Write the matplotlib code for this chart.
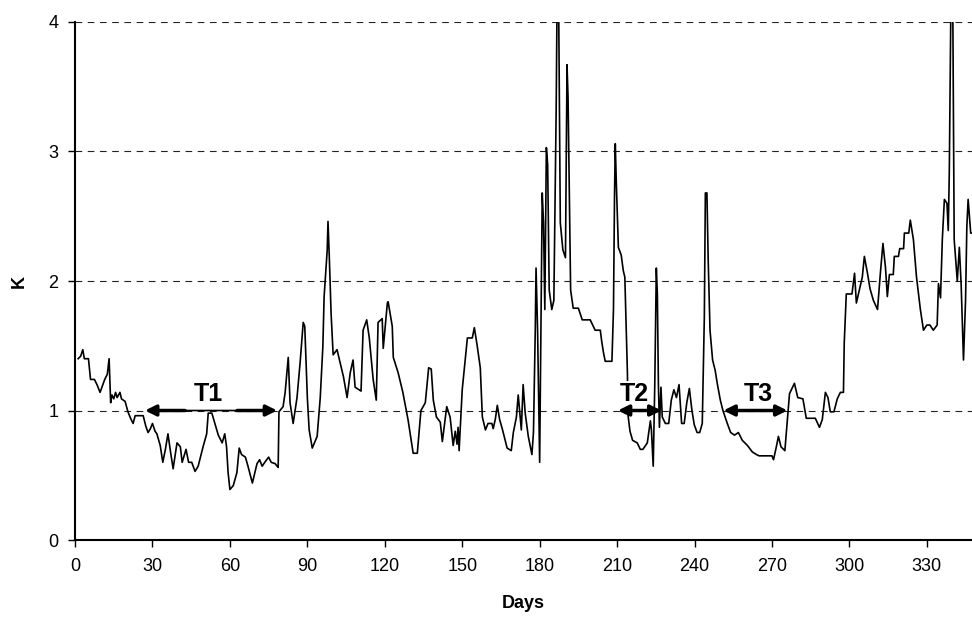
import matplotlib
matplotlib.use("Agg")
import matplotlib.pyplot as plt

plt.rcParams['font.family'] = ['Liberation Sans', 'DejaVu Sans']

# K value per day
days = [1.2, 2.2, 3, 3.6, 5.2, 6, 7.5, 8.5, 9.7, 11.5, 12.5, 13.2, 13.8, 14.3, 15, 15.7, 16.3, 17.4, 18, 19.4,
        20.5, 21.5, 22.5, 23.3, 26.4, 27.4, 28.3, 29.2, 30, 31, 31.7, 33, 34, 35, 36, 37, 38, 39.5, 40.8, 41.5,
        43, 44, 45.2, 46.5, 47.7, 49.6, 51, 51.6, 53, 54.3, 55.5, 57, 58, 58.7, 59.3, 60, 61.3, 62.7, 63.6, 64.5,
        66, 67, 68.7, 70.5, 71.5, 72.5, 73.5, 75, 76, 77.5, 78.7, 79, 80.6, 81.4, 82.6, 83.3, 84.5, 86, 87.2, 88.4,
        89, 90, 90.7, 91.9, 93.8, 95, 96, 96.5, 97.7, 98, 98.5, 99.2, 100, 101.5, 102.7, 104, 105.4, 106.6, 107.7, 108.5,
        110.8, 111.6, 113, 114, 115.5, 116.7, 117.4, 119, 119.4, 121, 121.3, 122.9, 123.3, 125.2, 127, 129, 131, 132.6,
        134, 135.7, 137, 138, 138.8, 140, 141.5, 142.3, 144, 145.3, 146.5, 147.3, 148, 148.4, 148.8, 150, 152, 153.9,
        154.7, 155.8, 157, 157.8, 159, 160, 161.5, 162, 162.8, 163.6, 164.5, 165.5, 167.4, 169, 169.8, 171, 171.7, 172.9,
        173.6, 174.4, 175.6, 177, 177.6, 178.3, 178.6, 179.2, 180, 181, 181.5, 182, 182.6, 183.1, 183.7, 184.7, 185.5, 186.4,
        186.8, 187.3, 188, 189, 190, 190.6, 191, 191.6, 192, 193, 195, 196.5, 199.6, 201.5, 203.5, 204, 204.7, 205.4,
        208, 208.6, 209, 209.3, 209.7, 210.5, 211.6, 212.4, 213, 214, 214.2, 215, 216, 217.8, 219, 220, 221.7, 222.9,
        223.3, 224, 224.6, 225.2, 225.6, 226, 226.4, 227, 227.5, 228.7, 230, 231, 232, 233, 234, 235, 236, 237,
        238, 239, 239.9, 241, 242, 243, 243.8, 244.2, 244.8, 245.3, 246, 247, 248, 248.8, 250, 251, 252.7, 254,
        255.5, 257, 258.5, 260.5, 262.4, 264, 265, 268, 270, 270.6, 271.7, 272.5, 273.5, 275, 276, 276.8, 278.7, 280,
        282, 283.3, 286.8, 288.4, 289.5, 290.7, 291.7, 292.6, 294, 295.3, 296.5, 297.7, 298, 298.8, 301, 302, 302.7, 303.5,
        305, 305.8, 307, 308, 309.3, 310.9, 312, 313, 314, 314.7, 315.5, 317, 317.4, 319, 319.5, 321, 321.3, 323,
        323.6, 324.8, 326, 327.5, 328.7, 330, 331.2, 332.5, 334, 334.5, 335.3, 336, 336.8, 337.8, 338.3, 338.7, 339.4, 340,
        340.6, 341.8, 342.6, 343.3, 344.2, 345, 345.5, 346, 347, 347.5]
k_values = [1.40, 1.42, 1.47, 1.40, 1.40, 1.24, 1.24, 1.20, 1.14, 1.24, 1.28, 1.40, 1.06, 1.12, 1.09, 1.14, 1.10, 1.14, 1.09, 1.07,
            0.99, 0.94, 0.90, 0.96, 0.96, 0.88, 0.83, 0.86, 0.90, 0.84, 0.82, 0.73, 0.60, 0.70, 0.82, 0.68, 0.55, 0.75, 0.72, 0.60,
            0.70, 0.60, 0.60, 0.53, 0.57, 0.72, 0.82, 0.98, 0.98, 0.89, 0.81, 0.75, 0.82, 0.72, 0.52, 0.39, 0.42, 0.52, 0.71, 0.66,
            0.64, 0.57, 0.44, 0.59, 0.62, 0.57, 0.60, 0.64, 0.60, 0.59, 0.56, 0.99, 1.03, 1.14, 1.41, 1.06, 0.90, 1.10, 1.37, 1.68,
            1.65, 1.10, 0.85, 0.71, 0.80, 1.10, 1.49, 1.88, 2.24, 2.46, 2.19, 1.75, 1.43, 1.47, 1.37, 1.26, 1.10, 1.29, 1.39, 1.18,
            1.15, 1.62, 1.70, 1.56, 1.24, 1.08, 1.68, 1.71, 1.48, 1.83, 1.84, 1.65, 1.41, 1.29, 1.14, 0.93, 0.67, 0.67,
            1.00, 1.06, 1.33, 1.32, 1.08, 0.95, 0.91, 0.76, 1.03, 0.95, 0.73, 0.84, 0.74, 0.87, 0.69, 1.16, 1.56, 1.56,
            1.64, 1.50, 1.33, 0.95, 0.85, 0.90, 0.90, 0.86, 0.93, 1.04, 0.93, 0.86, 0.71, 0.69, 0.83, 0.95, 1.12, 0.85,
            1.20, 0.98, 0.80, 0.66, 0.83, 1.62, 2.10, 1.62, 0.60, 2.68, 2.45, 1.78, 3.03, 2.90, 1.93, 1.78, 1.85, 3.32,
            4.30, 4.30, 2.45, 2.24, 2.18, 3.67, 3.42, 2.50, 1.93, 1.79, 1.79, 1.70, 1.70, 1.62, 1.62, 1.54, 1.45, 1.38,
            1.38, 1.78, 2.65, 3.06, 2.76, 2.26, 2.20, 2.08, 2.03, 1.29, 0.97, 0.84, 0.77, 0.75, 0.70, 0.70, 0.75, 0.92,
            0.85, 0.57, 1.20, 2.10, 1.90, 1.21, 0.87, 1.18, 0.95, 0.90, 0.90, 1.08, 1.16, 1.10, 1.20, 0.90, 0.90, 1.06,
            1.17, 1.00, 0.89, 0.83, 0.83, 0.90, 1.72, 2.68, 2.68, 2.16, 1.62, 1.39, 1.31, 1.21, 1.08, 1.00, 0.90, 0.83,
            0.81, 0.83, 0.77, 0.73, 0.68, 0.66, 0.65, 0.65, 0.65, 0.62, 0.72, 0.80, 0.72, 0.69, 0.93, 1.13, 1.21, 1.10,
            1.09, 0.94, 0.94, 0.87, 0.93, 1.14, 1.10, 0.99, 0.99, 1.09, 1.14, 1.14, 1.52, 1.90, 1.90, 2.06, 1.83, 1.90,
            2.03, 2.19, 2.06, 1.94, 1.85, 1.78, 2.06, 2.29, 2.10, 1.88, 2.05, 2.05, 2.19, 2.19, 2.25, 2.25, 2.37, 2.37,
            2.47, 2.32, 2.03, 1.78, 1.62, 1.66, 1.66, 1.62, 1.66, 1.98, 1.87, 2.32, 2.63, 2.60, 2.39, 2.83, 4.30, 4.30,
            2.32, 2.00, 2.26, 1.97, 1.39, 1.85, 2.42, 2.63, 2.37, 2.37]

# period markers: label, start day, end day, label position
periods = ["T1", "T2", "T3"]
period_start = [27.1, 210.3, 251.2]
period_end = [78.3, 227.2, 276.0]
label_day = [51.5, 216.7, 264.7]

fig = plt.figure(figsize=(9.72, 6.23), dpi=100)
ax = fig.add_axes([0.0772, 0.1332, 0.9228, 0.8315])

ax.plot(days, k_values, color='black', linewidth=1.2, zorder=3)

ax.set_xlim(0, 347.5)
ax.set_ylim(0, 4)
ax.set_xticks(range(0, 331, 30))
ax.set_yticks([0, 1, 2, 3, 4])
ax.yaxis.grid(True, linestyle=(0, (6, 5)), color='#222222', linewidth=0.8)
ax.set_axisbelow(True)

for side in ['top', 'right']:
    ax.spines[side].set_visible(False)
ax.spines['left'].set_linewidth(1.5)
ax.spines['bottom'].set_linewidth(1.5)
ax.tick_params(axis='both', labelsize=13, length=5, width=1, direction='out')
ax.tick_params(axis='x', pad=8)
ax.tick_params(axis='y', pad=7)

ax.set_xlabel("Days", fontsize=13, fontweight='bold', labelpad=14)
ax.set_ylabel("K", fontsize=13, fontweight='bold', labelpad=15)

head = dict(arrowstyle='-|>', color='black', lw=2.5, mutation_scale=16, shrinkA=0, shrinkB=0)
for i, name in enumerate(periods):
    s, e = period_start[i], period_end[i]
    if name == "T1":
        a, b = 42.6, 62.8
        ax.annotate('', xy=(s, 1), xytext=(a, 1), arrowprops=head, zorder=5)
        ax.annotate('', xy=(e, 1), xytext=(b, 1), arrowprops=head, zorder=5)
        ax.annotate('', xy=(a, 1), xytext=(b, 1),
                    arrowprops=dict(arrowstyle='-', color='black', lw=1.2, shrinkA=0, shrinkB=0), zorder=5)
    else:
        ax.annotate('', xy=(s, 1), xytext=(e, 1),
                    arrowprops=dict(arrowstyle='<|-|>', color='black', lw=2.5, mutation_scale=16,
                                    shrinkA=0, shrinkB=0), zorder=5)
    ax.text(label_day[i], 1.13, name, fontsize=18, fontweight='bold', ha='center', va='center',
            bbox=dict(facecolor='white', edgecolor='none', pad=0.5), zorder=4)

fig.savefig("out.png", dpi=100)
